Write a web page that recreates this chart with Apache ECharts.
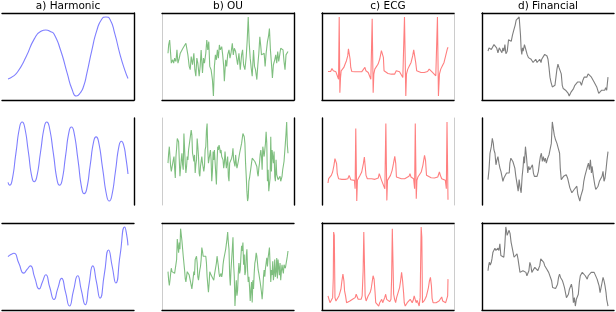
<!DOCTYPE html>
<html><head><meta charset="utf-8">
<script src="https://cdn.jsdelivr.net/npm/echarts@6/dist/echarts.min.js"></script>
<style>html,body{margin:0;padding:0;background:#fff}#c{width:616px;height:312px}</style>
</head><body><div id="c"></div>
<script>
// ---- data: [time, value] pairs ----
const colTitles = ['a) Harmonic', 'b) OU', 'c) ECG', 'd) Financial'];

const harm1 = [[20,62],[35,70],[50,85],[75,130],[100,185],[120,208],[135,212],[150,207],[160,200],[180,150],[200,80],[215,30],[228,10],[240,20],[250,40],[260,80],[275,150],[290,210],[305,245],[318,252],[330,245],[345,200],[360,140],[375,90],[385,64]];
const harm2 = [[20,83],[25,75],[32,87],[44,169],[56,250],[63,262],[70,250],[82,173],[93,97],[100,85],[107,97],[119,173],[131,250],[138,262],[145,250],[158,169],[170,87],[177,75],[184,87],[195,161],[206,235],[213,247],[220,235],[233,149],[245,62],[252,50],[259,62],[270,134],[281,206],[288,218],[295,206],[308,123],[321,40],[328,28],[335,40],[347,117],[358,193],[365,205],[372,193],[378,160],[385,108]];
const harm3 = [[20,158],[30,165],[38,168],[53,138],[68,108],[78,119],[88,130],[101,95],[115,60],[125,82],[135,103],[147,65],[160,28],[171,60],[183,92],[195,50],[207,8],[219,54],[232,100],[243,56],[255,12],[266,71],[278,130],[289,81],[300,32],[313,105],[326,178],[337,128],[348,78],[361,163],[375,248],[380,230],[385,192]];

const ou1 = [[38,140],[40,165],[43,180],[46,185],[48,110],[52,120],[55,110],[58,125],[62,115],[65,150],[68,110],[72,125],[75,140],[78,135],[83,155],[87,160],[92,170],[96,175],[98,135],[102,100],[105,90],[108,130],[112,105],[116,140],[119,90],[122,70],[125,125],[128,110],[132,70],[135,100],[138,150],[142,80],[145,125],[148,110],[152,140],[155,180],[158,150],[161,175],[164,100],[168,90],[172,60],[175,10],[178,100],[181,135],[184,120],[187,150],[190,125],[193,165],[196,150],[200,160],[203,135],[206,100],[208,55],[212,120],[215,100],[218,135],[222,150],[225,125],[228,140],[232,170],[235,135],[238,155],[242,145],[245,125],[248,105],[252,140],[256,90],[260,135],[263,150],[266,105],[270,90],[274,130],[277,180],[280,250],[283,170],[286,125],[289,95],[292,70],[296,150],[299,100],[302,90],[306,60],[309,105],[312,140],[315,190],[318,160],[320,135],[324,140],[328,140],[331,100],[334,140],[338,175],[341,190],[344,215],[347,150],[350,110],[353,65],[356,105],[360,120],[363,135],[366,110],[369,145],[372,115],[375,135],[378,155],[382,160],[385,150],[388,115],[391,90],[394,135],[397,140],[400,145]];
const ou2 = [[38,140],[40,170],[42,190],[44,160],[46,130],[48,115],[50,110],[52,120],[54,150],[56,160],[58,125],[60,95],[62,160],[64,185],[66,215],[68,210],[70,205],[72,150],[74,100],[76,95],[78,150],[80,170],[82,135],[84,120],[86,230],[88,230],[90,140],[92,110],[94,130],[96,160],[98,150],[100,180],[102,185],[104,180],[106,185],[108,240],[110,225],[112,170],[114,160],[116,145],[118,165],[120,110],[122,135],[124,150],[126,215],[128,190],[130,160],[132,110],[134,100],[136,130],[138,135],[140,160],[142,140],[144,135],[146,115],[148,130],[150,180],[152,190],[154,240],[156,260],[158,180],[160,140],[162,135],[164,140],[166,180],[168,150],[170,85],[172,115],[174,175],[176,150],[178,180],[180,175],[182,110],[184,75],[186,145],[188,190],[190,180],[192,195],[194,185],[196,170],[198,180],[200,160],[202,165],[204,150],[206,125],[208,140],[210,175],[212,170],[214,125],[216,140],[218,160],[220,100],[222,85],[224,140],[226,145],[228,140],[230,155],[232,165],[234,185],[236,150],[238,140],[240,130],[242,165],[244,140],[246,125],[248,135],[250,145],[252,150],[254,170],[256,175],[258,190],[260,200],[262,205],[264,230],[266,235],[268,220],[270,200],[272,140],[274,100],[276,55],[278,25],[280,35],[282,85],[284,95],[286,90],[288,100],[290,140],[292,155],[294,155],[296,150],[298,150],[300,145],[302,140],[304,145],[306,130],[308,110],[310,100],[312,125],[314,140],[316,165],[318,180],[320,160],[322,120],[324,190],[326,190],[328,160],[330,180],[332,200],[334,235],[336,200],[338,85],[340,120],[342,55],[344,50],[346,95],[348,220],[350,115],[352,180],[354,175],[356,140],[358,175],[360,100],[362,85],[364,150],[366,105],[368,110],[370,90],[372,85],[374,90],[376,100],[378,85],[380,85],[382,100],[384,120],[386,115],[388,145],[390,150],[392,200],[394,230],[396,265],[398,195],[400,170]];
const ou3 = [[38,115],[40,90],[42,75],[44,90],[46,110],[48,125],[50,115],[52,120],[55,115],[58,110],[61,105],[64,150],[66,210],[68,190],[70,170],[72,200],[74,180],[76,240],[78,245],[80,205],[82,200],[84,160],[86,160],[88,120],[90,95],[92,85],[94,100],[96,115],[98,120],[100,115],[102,105],[104,95],[106,85],[108,75],[110,65],[112,80],[114,85],[116,115],[118,105],[120,150],[122,155],[124,160],[126,140],[128,100],[130,90],[132,105],[134,120],[136,130],[138,150],[140,185],[142,175],[144,160],[146,160],[148,160],[150,155],[152,160],[154,140],[156,100],[158,95],[160,55],[162,80],[164,115],[166,120],[168,105],[170,100],[172,105],[174,100],[176,90],[178,105],[180,100],[182,110],[184,140],[186,160],[188,165],[190,130],[192,110],[194,100],[196,100],[198,110],[200,100],[202,110],[204,135],[206,150],[208,155],[210,170],[212,180],[214,195],[216,210],[218,230],[220,200],[222,180],[224,105],[226,75],[228,120],[230,125],[232,180],[234,215],[236,135],[238,100],[240,15],[242,55],[244,90],[246,45],[248,60],[250,110],[252,140],[254,110],[256,120],[258,160],[260,190],[262,175],[264,200],[266,135],[268,165],[270,105],[272,115],[274,160],[276,180],[278,120],[280,85],[282,100],[284,70],[286,30],[288,60],[290,85],[292,25],[294,90],[296,65],[298,110],[300,140],[302,150],[304,170],[306,160],[308,140],[310,120],[312,110],[314,105],[316,85],[318,90],[320,55],[322,35],[324,60],[326,100],[328,120],[330,100],[332,125],[334,140],[336,155],[338,130],[340,155],[342,170],[344,185],[346,135],[348,85],[350,120],[352,105],[354,145],[356,90],[358,110],[360,150],[362,100],[364,115],[366,155],[368,95],[370,150],[372,145],[374,105],[376,140],[378,90],[380,115],[382,135],[384,120],[386,110],[388,135],[390,140],[392,125],[394,120],[396,130],[398,160],[400,175]];

const ecg1 = [[38,88],[42,90],[46,88],[50,97],[54,90],[58,85],[62,87],[66,85],[68,85],[70,65],[72,250],[74,25],[76,70],[78,90],[82,95],[86,100],[90,110],[94,120],[98,135],[100,155],[103,160],[105,125],[107,100],[110,88],[115,88],[120,87],[130,87],[140,87],[145,90],[150,100],[153,90],[157,85],[160,85],[165,80],[168,65],[172,245],[175,25],[177,80],[180,95],[185,100],[190,110],[195,125],[200,150],[203,155],[206,130],[208,90],[212,85],[220,82],[230,80],[240,80],[245,90],[248,95],[250,85],[255,87],[260,85],[265,70],[270,250],[274,15],[276,80],[280,95],[285,105],[290,115],[295,135],[298,152],[302,150],[304,115],[307,90],[312,85],[320,85],[330,85],[340,88],[345,95],[350,90],[355,85],[360,85],[365,75],[368,70],[370,250],[373,15],[376,80],[380,95],[385,105],[390,115],[395,135],[400,155],[402,160]];
const ecg2 = [[38,82],[40,95],[44,100],[48,105],[52,115],[56,135],[59,155],[62,150],[64,140],[66,110],[70,95],[75,90],[80,93],[90,93],[98,95],[102,105],[105,105],[107,92],[112,90],[118,90],[120,65],[122,245],[125,28],[127,90],[130,95],[135,105],[140,115],[145,140],[148,160],[150,155],[153,105],[157,95],[162,93],[170,95],[175,97],[180,93],[185,93],[190,97],[193,110],[196,102],[200,90],[205,90],[210,65],[213,260],[216,30],[218,90],[222,95],[227,105],[232,120],[236,140],[240,162],[243,140],[245,100],[250,95],[260,95],[270,95],[283,102],[286,110],[289,100],[293,95],[297,95],[300,65],[302,260],[305,35],[307,90],[310,100],[315,105],[320,115],[325,135],[330,165],[333,150],[336,105],[340,100],[350,98],[360,97],[370,100],[375,115],[378,105],[382,95],[388,95],[393,90],[396,65],[398,265],[401,32]];
const ecg3 = [[38,45],[41,35],[44,25],[47,30],[50,25],[52,40],[54,100],[55,235],[57,225],[59,40],[62,30],[65,35],[68,32],[71,45],[74,55],[77,65],[80,90],[83,110],[86,90],[88,60],[91,45],[94,25],[97,30],[100,25],[104,30],[108,32],[112,35],[116,35],[120,40],[123,50],[126,55],[129,35],[132,35],[135,30],[138,35],[141,45],[144,120],[146,235],[148,230],[150,45],[153,30],[156,35],[159,45],[162,50],[165,55],[168,65],[171,85],[174,105],[177,95],[180,55],[182,25],[185,20],[188,25],[191,15],[194,25],[197,30],[200,35],[203,25],[206,30],[209,40],[212,50],[215,35],[218,30],[221,35],[224,28],[228,35],[230,100],[232,245],[234,240],[236,50],[239,35],[242,25],[245,40],[248,45],[251,60],[254,70],[257,90],[260,115],[263,90],[266,55],[268,25],[271,15],[274,20],[277,25],[280,30],[283,25],[286,35],[289,30],[292,25],[295,32],[298,45],[301,35],[304,25],[307,32],[310,28],[313,15],[316,40],[318,180],[319,250],[321,220],[323,25],[326,30],[329,32],[332,38],[335,45],[338,50],[341,70],[344,90],[347,100],[350,75],[352,38],[355,25],[358,25],[361,28],[364,25],[367,30],[370,25],[373,30],[376,35],[379,35],[381,42],[384,30],[387,25],[390,30],[393,25],[396,30],[399,45],[400,95]];

const fin1 = [[52,150],[55,160],[58,165],[62,155],[66,150],[70,170],[74,172],[78,160],[82,145],[86,160],[90,155],[94,145],[97,160],[100,150],[103,170],[106,142],[110,150],[114,185],[118,190],[122,180],[126,200],[130,215],[134,230],[137,245],[140,240],[143,250],[146,255],[148,250],[150,200],[152,155],[154,140],[156,160],[158,150],[162,170],[166,155],[170,140],[174,130],[178,135],[182,125],[185,130],[188,115],[192,120],[196,125],[200,115],[204,120],[208,125],[212,115],[214,125],[217,120],[220,130],[223,140],[226,140],[230,135],[233,125],[236,100],[239,70],[242,55],[246,40],[250,45],[254,45],[257,70],[260,95],[263,110],[266,100],[270,105],[273,80],[276,45],[279,35],[282,35],[286,30],[290,35],[294,20],[297,12],[300,15],[303,25],[307,30],[310,35],[314,45],[318,50],[322,55],[326,50],[330,55],[334,45],[338,60],[342,70],[346,75],[350,70],[354,80],[357,85],[360,78],[364,70],[368,70],[372,55],[376,50],[380,40],[383,30],[386,20],[389,15],[392,25],[395,30],[398,28],[401,32],[404,30],[407,38],[410,30],[412,35],[414,70]];
const fin2 = [[52,90],[55,120],[58,170],[62,190],[65,215],[68,200],[70,180],[73,170],[76,135],[79,150],[82,160],[85,140],[88,125],[91,115],[94,100],[97,85],[100,95],[104,100],[108,110],[112,115],[116,110],[118,140],[121,155],[124,150],[127,145],[130,150],[133,125],[136,100],[140,75],[143,55],[146,90],[149,65],[152,50],[155,100],[158,130],[160,160],[162,140],[165,190],[168,160],[172,110],[175,130],[178,120],[182,115],[186,135],[189,110],[192,100],[196,95],[200,100],[204,115],[207,140],[210,160],[213,170],[216,145],[219,160],[222,145],[225,155],[228,140],[232,155],[236,165],[240,170],[243,200],[246,265],[248,260],[252,225],[256,210],[260,200],[264,185],[268,170],[270,125],[273,90],[276,95],[280,100],[284,100],[288,105],[292,95],[296,90],[299,65],[302,60],[305,50],[308,45],[312,60],[316,65],[320,70],[323,45],[326,35],[329,25],[332,40],[335,45],[338,60],[341,85],[344,100],[348,115],[352,130],[355,140],[358,120],[361,150],[364,110],[366,130],[370,100],[374,75],[377,60],[380,55],[384,70],[388,85],[392,80],[396,100],[399,115],[402,85],[405,95],[408,120],[411,150],[414,175]];
const fin3 = [[52,115],[54,130],[56,140],[59,132],[62,140],[64,150],[67,170],[70,175],[73,182],[76,175],[79,180],[82,182],[85,175],[88,195],[91,160],[94,155],[97,165],[100,155],[103,190],[106,245],[108,235],[110,220],[113,215],[116,235],[119,225],[122,200],[125,185],[128,170],[131,155],[134,150],[137,155],[140,165],[143,150],[146,130],[149,110],[152,115],[155,110],[158,115],[161,115],[164,120],[167,110],[170,100],[173,105],[176,115],[179,140],[182,130],[185,110],[188,115],[191,110],[194,125],[197,120],[200,125],[203,115],[206,120],[209,130],[212,150],[215,155],[218,145],[221,140],[224,130],[227,125],[230,120],[233,115],[236,110],[239,105],[242,110],[245,85],[248,65],[251,60],[254,65],[257,62],[260,65],[263,75],[266,95],[269,105],[272,95],[275,95],[278,85],[281,75],[284,65],[287,60],[290,35],[293,35],[296,45],[299,60],[302,65],[305,75],[308,60],[311,20],[314,35],[317,10],[320,30],[323,35],[326,45],[329,80],[332,100],[335,105],[338,110],[341,115],[344,112],[347,100],[350,95],[353,90],[356,100],[359,100],[362,105],[365,110],[368,105],[371,115],[374,110],[377,112],[380,105],[383,90],[386,80],[389,70],[392,50],[395,45],[398,80],[401,95],[404,85],[407,70],[410,50],[412,30],[414,20],[416,10]];

// ---- layout & style ----
const grid = [[harm1, ou1, ecg1, fin1], [harm2, ou2, ecg2, fin2], [harm3, ou3, ecg3, fin3]];
const colColors = ['#7f7fff', '#7fbf7f', '#ff7f7f', '#7f7f7f'];
const colLeft = [2, 162, 322, 482];
const rowTop = [13, 118, 223];
const panelW = 132, panelH = 87;
const K = '#000', G = '#cccccc';
// spines per panel: left, top, right, bottom
const spines = [
  [{t:K,r:K,b:K}, {l:G,t:K,r:K,b:K}, {l:K,t:K,r:G,b:K}, {l:K,t:K,b:K}],
  [{r:K},         {l:G,r:K},         {l:K,r:G},         {l:K}],
  [{t:K,b:K},     {l:G,t:K,b:K},     {l:K,t:K,r:G,b:K}, {l:K,t:K,b:K}]
];

const grids = [], xAxes = [], yAxes = [], series = [], titles = [];
function line(c) {
  return { show: !!c, onZero: false, lineStyle: { color: c || '#000', width: c === G ? 1 : 1.4 } };
}
const hidden = { axisTick: {show:false}, axisLabel: {show:false}, splitLine: {show:false} };
let gi = 0;
for (let r = 0; r < 3; r++) {
  for (let c = 0; c < 4; c++) {
    const d = grid[r][c];
    const xs = d.map(p => p[0]), ys = d.map(p => p[1]);
    const x0 = Math.min(...xs), x1 = Math.max(...xs), y0 = Math.min(...ys), y1 = Math.max(...ys);
    const mx = (x1 - x0) * 0.05, my = (y1 - y0) * 0.05;
    const sp = spines[r][c];
    grids.push({ left: colLeft[c], top: rowTop[r], width: panelW, height: panelH });
    const xr = { min: x0 - mx, max: x1 + mx }, yr = { min: y0 - my, max: y1 + my };
    xAxes.push(Object.assign({ type: 'value', gridIndex: gi, position: 'bottom', axisLine: line(sp.b) }, xr, hidden));
    xAxes.push(Object.assign({ type: 'value', gridIndex: gi, position: 'top', axisLine: line(sp.t) }, xr, hidden));
    yAxes.push(Object.assign({ type: 'value', gridIndex: gi, position: 'left', axisLine: line(sp.l) }, yr, hidden));
    yAxes.push(Object.assign({ type: 'value', gridIndex: gi, position: 'right', axisLine: line(sp.r) }, yr, hidden));
    series.push({
      type: 'line', xAxisIndex: gi * 2, yAxisIndex: gi * 2, data: d,
      showSymbol: false, symbol: 'none', smooth: c === 0 ? 0.6 : false,
      lineStyle: { color: colColors[c], width: 1.1 }, silent: true
    });
    gi++;
  }
}
for (let c = 0; c < 4; c++) {
  titles.push({ text: colTitles[c], left: colLeft[c] + panelW / 2, top: 1, textAlign: 'center', padding: 0,
    textStyle: { fontFamily: 'DejaVu Sans', fontSize: 10.5, fontWeight: 'normal', color: '#000' } });
}

const chart = echarts.init(document.getElementById('c'), null, { renderer: 'canvas' });
chart.setOption({ animation: false, backgroundColor: '#fff', title: titles, grid: grids, xAxis: xAxes, yAxis: yAxes, series: series });
</script>
</body></html>
